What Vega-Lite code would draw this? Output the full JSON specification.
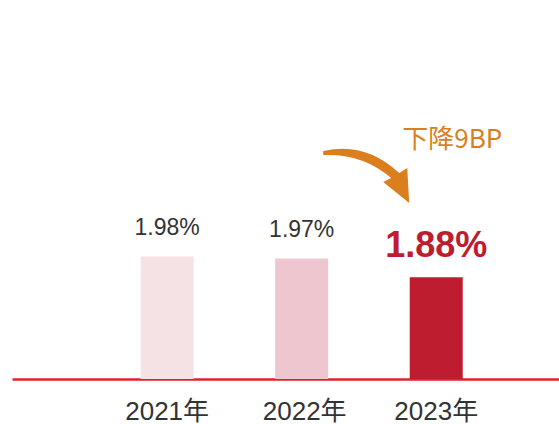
{
  "$schema": "https://vega.github.io/schema/vega-lite/v6.json",
  "width": 547,
  "height": 379,
  "autosize": {"type": "none"},
  "padding": {"left": 12, "top": 0, "right": 0, "bottom": 45},
  "background": "white",
  "config": {"view": {"stroke": null}},
  "data": {"values": [
    {"year": "2021年", "rate": 1.98, "label": "1.98%"},
    {"year": "2022年", "rate": 1.97, "label": "1.97%"},
    {"year": "2023年", "rate": 1.88, "label": "1.88%"}
  ]},
  "encoding": {
    "x": {
      "field": "year", "type": "nominal", "sort": null,
      "scale": {"paddingInner": 0.606, "paddingOuter": 0.836, "align": 0.572},
      "axis": {
        "title": null, "labelAngle": 0, "ticks": false,
        "domainColor": "#E3202E", "domainWidth": 2.5,
        "labelFont": "Liberation Sans, Noto Sans CJK SC", "labelFontSize": 26,
        "labelColor": "#333333", "labelPadding": 19,
        "labelOffset": {"condition": [
          {"test": "datum.value === '2022年'", "value": 3}
        ], "value": 0}
      }
    }
  },
  "layer": [
    {
      "mark": {"type": "bar"},
      "encoding": {
        "y": {"field": "rate", "type": "quantitative", "scale": {"domain": [1.3896, 3.2144], "zero": false, "nice": false}, "axis": null},
        "y2": {"datum": 1.3896},
        "color": {"field": "year", "type": "nominal", "legend": null,
          "scale": {"domain": ["2021年", "2022年", "2023年"], "range": ["#F5E2E4", "#EEC6D0", "#BE1C2F"]}}
      }
    },
    {
      "transform": [{"filter": "datum.year !== '2023年'"}],
      "mark": {"type": "text", "dy": -21, "baseline": "alphabetic", "font": "Liberation Sans", "fontSize": 23, "color": "#333333"},
      "encoding": {
        "y": {"field": "rate", "type": "quantitative"},
        "text": {"field": "label"}
      }
    },
    {
      "transform": [{"filter": "datum.year === '2023年'"}],
      "mark": {"type": "text", "dy": -20, "baseline": "alphabetic", "font": "Liberation Sans", "fontSize": 36, "fontWeight": "bold", "color": "#BE1C2F"},
      "encoding": {
        "y": {"field": "rate", "type": "quantitative"},
        "text": {"field": "label"}
      }
    },
    {
      "data": {"values": [{"year": "2023年", "note": "下降9BP"}]},
      "mark": {"type": "point", "filled": true, "opacity": 1, "strokeWidth": 0, "color": "#DB7F1E", "size": 8100,
        "shape": "M -2.511 -0.6 Q -1.578 -0.822 -0.822 -0.111 L -0.644 -0.222 L -0.6 0.556 L -1.178 0.089 L -1 0 Q -1.644 -0.556 -2.511 -0.511 Z"},
      "encoding": {
        "x": {"field": "year", "type": "nominal"},
        "y": {"datum": 2.357, "type": "quantitative"}
      }
    },
    {
      "data": {"values": [{"year": "2023年", "note": "下降9BP"}]},
      "mark": {"type": "text", "dx": 16, "align": "center", "baseline": "alphabetic", "fontSize": 26, "font": "Noto Sans CJK SC", "color": "#DB7F1E"},
      "encoding": {
        "x": {"field": "year", "type": "nominal"},
        "y": {"datum": 2.502, "type": "quantitative"},
        "text": {"field": "note"}
      }
    }
  ]
}
